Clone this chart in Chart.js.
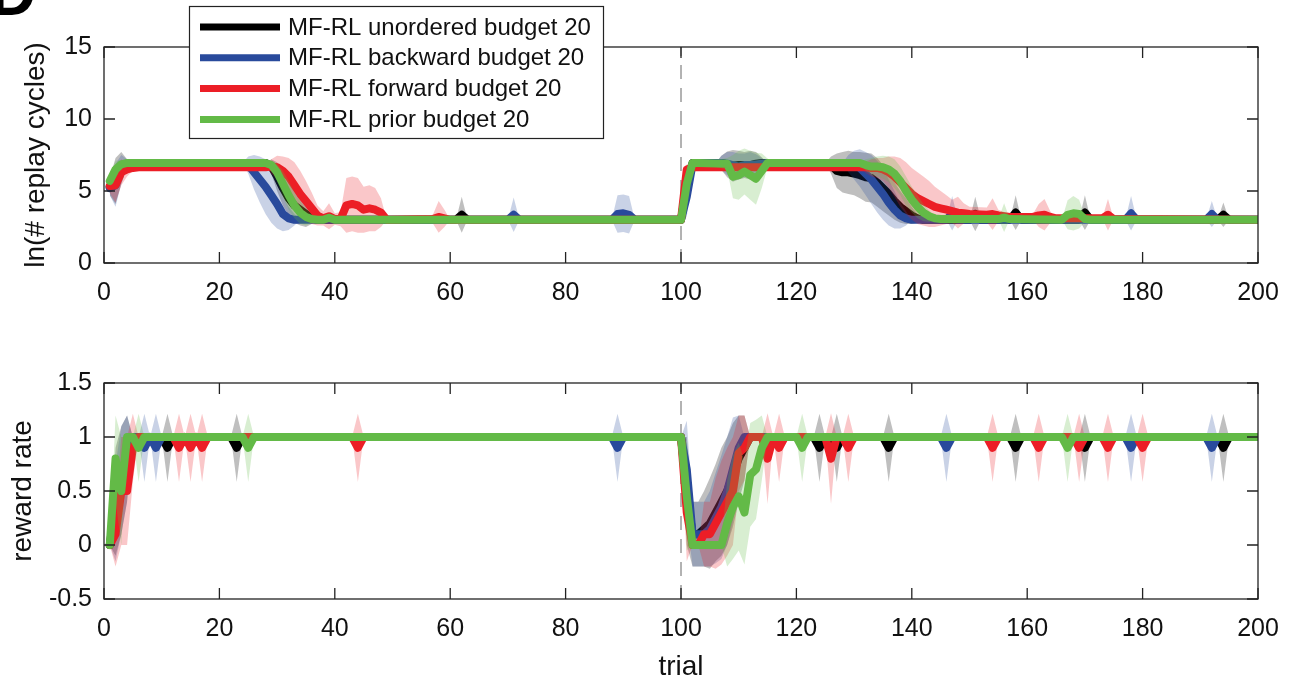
<!DOCTYPE html>
<html>
<head>
<meta charset="utf-8">
<script src="https://cdn.jsdelivr.net/npm/chart.js@4.4.1/dist/chart.umd.min.js"></script>
<style>
  html, body { margin: 0; padding: 0; background: #fff; }
  #wrap { position: relative; width: 1295px; height: 684px; }
  #topChart { position: absolute; left: 0; top: 0; width: 1295px; height: 340px; }
  #bottomChart { position: absolute; left: 0; top: 340px; width: 1295px; height: 344px; }
</style>
</head>
<body>
<div id="wrap">
  <canvas id="topChart" width="1295" height="340"></canvas>
  <canvas id="bottomChart" width="1295" height="344"></canvas>
</div>
<script>
const FONT = '"Liberation Sans", Arial, Helvetica, sans-serif';

const seriesLabels = ['MF-RL unordered budget 20', 'MF-RL backward budget 20', 'MF-RL forward budget 20', 'MF-RL prior budget 20'];
const seriesColors = ['rgb(0,0,0)', 'rgb(41,74,156)', 'rgb(236,30,38)', 'rgb(99,186,71)'];
const bandColors = ['rgba(0,0,0,0.25)', 'rgba(41,74,156,0.25)', 'rgba(236,30,38,0.25)', 'rgba(99,186,71,0.25)'];

const trialTicks = [0, 20, 40, 60, 80, 100, 120, 140, 160, 180, 200];
const replayTicks = [0, 5, 10, 15];
const rewardTicks = [-0.5, 0, 0.5, 1, 1.5];
const switchTrial = 100;

// [trial, mean, spread] -- straight runs between listed trials are constant
const replayUnordered = [
  [1,5.3,0.6],[2,5.7,1.6],[3,6.6,1.1],[4,6.9,0.3],[5,6.95,0],
  [28,6.95,0],[29,6.7,0.5],[30,6.0,1.0],[31,5.2,1.2],[32,4.5,1.2],[33,4.0,1.2],[34,3.7,1.1],[35,3.4,0.9],[36,3.1,0.4],[37,3.0,0],
  [61,3.0,0],[62,3.35,1.25],[63,3.0,0],
  [100,3.0,0],[101,5.3,1.3],[102,6.95,0.2],[103,6.95,0],
  [106,6.95,0],[107,6.95,0.5],[108,6.85,0.9],[109,6.75,1.1],[110,6.8,1.0],[111,6.8,0.9],[112,6.8,1.0],[113,6.9,0.8],[114,6.95,0.4],[115,6.95,0],
  [125,6.95,0],[126,6.8,0.6],[127,6.4,1.2],[128,6.3,1.4],[129,6.3,1.5],[130,6.2,1.5],[131,6.1,1.6],[132,5.95,1.7],[133,5.9,1.7],[134,5.6,1.7],[135,5.2,1.6],[136,4.8,1.5],[137,4.3,1.3],[138,3.9,1.1],[139,3.6,0.9],[140,3.3,0.6],[141,3.1,0.3],[142,3.0,0],
  [150,3.0,0],[151,3.4,1.2],[152,3.0,0],[157,3.0,0],[158,3.5,1.2],[159,3.0,0],[169,3.0,0],[170,3.5,1.2],[171,3.0,0],[193,3.0,0],[194,3.35,0.85],[195,3.0,0],[200,3.0,0]
];
const replayBackward = [
  [1,5.2,0.5],[2,5.4,1.5],[3,6.5,1.0],[4,6.9,0.3],[5,6.95,0],
  [24,6.95,0],[25,6.8,0.6],[26,6.3,1.2],[27,5.8,1.6],[28,5.3,1.9],[29,4.7,1.9],[30,4.1,1.7],[31,3.4,1.2],[32,3.1,0.8],[33,3.0,0.4],[34,3.0,0],
  [70,3.0,0],[71,3.35,1.2],[72,3.0,0],
  [88,3.0,0],[89,3.4,1.3],[90,3.45,1.3],[91,3.35,1.3],[92,3.0,0],
  [100,3.0,0],[101,4.6,1.4],[102,6.85,0.3],[103,6.95,0],
  [106,6.95,0],[107,6.95,0.5],[108,6.9,0.8],[109,6.8,0.9],[110,6.7,0.9],[111,6.8,0.8],[112,6.8,0.9],[113,6.85,0.7],[114,6.9,0.4],[115,6.95,0],
  [128,6.95,0],[129,6.9,0.6],[130,6.8,1.0],[131,6.6,1.3],[132,6.2,1.5],[133,5.8,1.7],[134,5.3,1.8],[135,4.8,1.8],[136,4.2,1.6],[137,3.7,1.3],[138,3.3,0.9],[139,3.1,0.5],[140,3.0,0],
  [146,3.0,0],[147,3.45,1.2],[148,3.0,0],[177,3.0,0],[178,3.45,1.2],[179,3.0,0],[191,3.0,0],[192,3.4,0.9],[193,3.0,0],[200,3.0,0]
];
const replayForward = [
  [1,5.35,0.5],[2,5.4,1.2],[3,6.3,0.9],[4,6.5,0.5],[5,6.6,0.2],[6,6.65,0],
  [28,6.65,0],[29,6.7,0.5],[30,6.65,0.8],[31,6.4,1.0],[32,6.0,1.3],[33,5.4,1.6],[34,4.8,1.6],[35,4.3,1.4],[36,3.8,1.1],[37,3.3,0.7],[38,3.1,0.5],[39,3.25,0.9],[40,3.05,0.4],[41,3.05,0.5],
  [42,4.0,1.9],[43,4.1,1.9],[44,4.0,1.9],[45,3.7,1.6],[46,3.8,1.6],[47,3.7,1.5],[48,3.5,1.0],[49,3.0,0],
  [57,3.05,0.3],[58,3.2,1.1],[59,3.1,0.6],[60,3.0,0],
  [100,3.0,0],[101,6.5,0.4],[102,6.65,0],
  [131,6.65,0],[132,6.65,0.4],[133,6.6,0.6],[134,6.6,0.7],[135,6.5,0.8],[136,6.3,1.1],[137,6.0,1.4],[138,5.6,1.7],[139,5.2,1.8],[140,4.8,1.8],[141,4.5,1.8],[142,4.3,1.7],[143,4.1,1.6],[144,3.9,1.4],[145,3.8,1.2],[146,3.7,1.0],[147,3.6,0.8],[148,3.5,1.1],[149,3.45,0.7],[150,3.4,0.5],
  [153,3.35,0.5],[154,3.4,1.1],[155,3.3,0.4],[156,3.25,0.3],[157,3.2,0.2],[161,3.2,0.2],[162,3.3,0.8],[163,3.35,1.1],[164,3.2,0.4],[165,3.1,0],
  [173,3.1,0],[174,3.35,1.1],[175,3.05,0],[200,3.0,0]
];
const replayPrior = [
  [1,5.7,0.4],[2,6.5,0.6],[3,6.85,0.3],[4,6.95,0],
  [28,6.95,0],[29,6.8,0.3],[30,6.3,0.6],[31,5.5,0.9],[32,4.7,1.0],[33,4.0,0.9],[34,3.5,0.8],[35,3.2,0.6],[36,3.05,0.3],[37,3.0,0],
  [38,3.0,0],[39,3.15,0.3],[40,3.0,0],
  [100,3.0,0],[101,5.5,0.6],[102,6.95,0.2],[103,6.95,0],
  [108,6.9,0.4],[109,6.0,1.5],[110,6.1,1.7],[111,6.35,1.6],[112,6.1,1.7],[113,5.85,1.8],[114,6.4,1.2],[115,6.95,0.3],[116,6.95,0],
  [131,6.95,0],[132,6.8,0.4],[133,6.7,0.6],[134,6.7,0.7],[135,6.65,0.8],[136,6.5,0.9],[137,6.2,1.0],[138,5.7,1.0],[139,5.0,1.0],[140,4.4,0.9],[141,3.9,0.8],[142,3.5,0.6],[143,3.25,0.4],[144,3.1,0.2],[145,3.05,0],
  [155,3.05,0],[156,3.15,1.0],[157,3.05,0],
  [166,3.0,0],[167,3.35,1.0],[168,3.45,1.2],[169,3.4,1.0],[170,3.05,0.2],[171,3.0,0],[200,3.0,0]
];

const rewardUnordered = [
  [1,0,0],[2,0.4,0.5],[3,0.6,0.5],[4,0.8,0.4],[5,1,0],
  [10,1,0],[11,0.9,0.316],[12,1,0],[22,1,0],[23,0.9,0.316],[24,1,0],
  [100,1,0],[101,0.5,0.5],[102,0.1,0.3],[103,0.1,0.3],[104,0.15,0.35],[105,0.2,0.42],[106,0.3,0.45],[107,0.4,0.5],[108,0.5,0.5],[109,0.65,0.48],[110,0.8,0.4],[111,0.9,0.3],[112,1,0],
  [123,1,0],[124,0.9,0.316],[125,1,0],[126,1,0],[127,0.9,0.316],[128,1,0],[135,1,0],[136,0.9,0.316],[137,1,0],
  [157,1,0],[158,0.9,0.316],[159,1,0],[169,1,0],[170,0.9,0.316],[171,1,0],[193,1,0],[194,0.9,0.316],[195,1,0],[200,1,0]
];
const rewardBackward = [
  [1,0,0],[2,0.3,0.45],[3,0.6,0.5],[4,0.8,0.4],[5,1,0],
  [6,1,0],[7,0.9,0.316],[8,1,0],[9,0.9,0.316],[10,1,0],
  [88,1,0],[89,0.9,0.316],[90,1,0],
  [100,1,0],[101,0.7,0.45],[102,0.1,0.3],[103,0.1,0.3],[104,0.1,0.3],[105,0.15,0.35],[106,0.25,0.42],[107,0.35,0.48],[108,0.5,0.5],[109,0.7,0.48],[110,0.9,0.3],[111,1,0],
  [145,1,0],[146,0.9,0.316],[147,1,0],[177,1,0],[178,0.9,0.316],[179,1,0],[191,1,0],[192,0.9,0.316],[193,1,0],[200,1,0]
];
const rewardForward = [
  [1,0,0],[2,0.1,0.3],[3,0.5,0.5],[4,0.5,0.5],[5,0.9,0.316],[6,1,0],
  [12,1,0],[13,0.9,0.316],[14,1,0],[15,0.9,0.316],[16,1,0],[17,0.9,0.316],[18,1,0],
  [43,1,0],[44,0.9,0.316],[45,1,0],
  [100,1,0],[101,0.3,0.45],[102,0,0],[103,0,0],[104,0.1,0.3],[105,0.1,0.3],[106,0.2,0.42],[107,0.3,0.48],[108,0.4,0.5],[109,0.5,0.5],[110,0.85,0.35],[111,0.9,0.3],[112,1,0],
  [114,1,0],[115,0.8,0.42],[116,1,0],[117,0.9,0.316],[118,1,0],
  [125,1,0],[126,0.8,0.42],[127,1,0],[128,1,0],[129,0.9,0.316],[130,1,0],
  [153,1,0],[154,0.9,0.316],[155,1,0],[161,1,0],[162,0.9,0.316],[163,1,0],[168,1,0],[169,0.9,0.316],[170,1,0],
  [173,1,0],[174,0.9,0.316],[175,1,0],[179,1,0],[180,0.9,0.316],[181,1,0],[200,1,0]
];
const rewardPrior = [
  [1,0,0],[2,0.8,0.4],[3,0.5,0.5],[4,1,0],
  [5,1,0],[6,0.9,0.316],[7,1,0],[24,1,0],[25,0.9,0.316],[26,1,0],
  [100,1,0],[101,0.45,0.5],[102,0,0],[107,0,0],[108,0.2,0.4],[109,0.35,0.48],[110,0.45,0.5],[111,0.3,0.48],[112,0.65,0.48],[113,0.7,0.46],[114,0.9,0.3],[115,1,0],
  [120,1,0],[121,0.9,0.316],[122,1,0],[166,1,0],[167,0.9,0.316],[168,1,0],[200,1,0]
];

// band (upper filled to lower) then the mean line, per series
function seriesSets(points, k) {
  return [
    { data: points.map(p => ({ x: p[0], y: p[1] + p[2] })), fill: '+1', backgroundColor: bandColors[k],
      borderColor: 'rgba(0,0,0,0)', borderWidth: 0, pointRadius: 0 },
    { data: points.map(p => ({ x: p[0], y: p[1] - p[2] })), fill: false,
      borderColor: 'rgba(0,0,0,0)', borderWidth: 0, pointRadius: 0 },
    { label: seriesLabels[k], data: points.map(p => ({ x: p[0], y: p[1] })), fill: false,
      borderColor: seriesColors[k], borderWidth: 8, borderJoinStyle: 'round', borderCapStyle: 'round', pointRadius: 0 }
  ];
}

function buildDatasets(allSeries, yMin, yMax) {
  let sets = [{ data: [{ x: switchTrial, y: yMin }, { x: switchTrial, y: yMax }], borderColor: '#666',
                borderWidth: 1, borderDash: [14, 9], pointRadius: 0, fill: false }];
  allSeries.forEach((s, k) => { sets = sets.concat(seriesSets(s, k)); });
  // first in list is drawn first (bottom), last drawn on top
  sets.forEach((d, i) => { d.order = sets.length - i; });
  return sets;
}

// MATLAB-like box with inward ticks on all sides
const framePlugin = {
  id: 'frame',
  afterDatasetsDraw(chart) {
    const { ctx, chartArea: a, scales } = chart;
    ctx.save();
    ctx.strokeStyle = '#222';
    ctx.lineWidth = 1.3;
    ctx.strokeRect(a.left, a.top, a.right - a.left, a.bottom - a.top);
    ctx.beginPath();
    scales.x.ticks.forEach(t => {
      const px = scales.x.getPixelForValue(t.value);
      ctx.moveTo(px, a.bottom); ctx.lineTo(px, a.bottom - 11);
      ctx.moveTo(px, a.top); ctx.lineTo(px, a.top + 11);
    });
    scales.y.ticks.forEach(t => {
      const py = scales.y.getPixelForValue(t.value);
      ctx.moveTo(a.left, py); ctx.lineTo(a.left + 11, py);
      ctx.moveTo(a.right, py); ctx.lineTo(a.right - 11, py);
    });
    ctx.stroke();
    ctx.restore();
  }
};

const legendPlugin = {
  id: 'legendBox',
  afterDraw(chart) {
    const ctx = chart.ctx;
    ctx.save();
    // cut-off panel letter
    ctx.fillStyle = '#000';
    ctx.font = 'bold 64px ' + FONT;
    ctx.textBaseline = 'alphabetic';
    ctx.fillText('D', -10, 15);

    ctx.fillStyle = '#fff';
    ctx.fillRect(189.5, 6.5, 414, 132);
    ctx.strokeStyle = '#222';
    ctx.lineWidth = 1.2;
    ctx.strokeRect(189.5, 6.5, 414, 132);
    ctx.font = '24px ' + FONT;
    ctx.textBaseline = 'middle';
    seriesLabels.forEach((lab, k) => {
      const y = 27 + k * 30.8;
      ctx.strokeStyle = seriesColors[k];
      ctx.lineWidth = 7;
      ctx.beginPath();
      ctx.moveTo(200, y);
      ctx.lineTo(280, y);
      ctx.stroke();
      ctx.fillStyle = '#111';
      ctx.fillText(lab, 288, y + 1);
    });
    ctx.restore();
  }
};

function panelOptions(cfg) {
  return {
    responsive: false,
    animation: false,
    events: [],
    layout: { padding: { left: 0, right: 37, top: cfg.padTop, bottom: 0 } },
    plugins: { legend: { display: false }, tooltip: { enabled: false } },
    scales: {
      x: {
        type: 'linear', min: 0, max: 200,
        afterBuildTicks: s => { s.ticks = trialTicks.map(v => ({ value: v })); },
        afterFit: s => { s.height = cfg.xHeight; },
        grid: { display: false, drawTicks: false },
        border: { display: false },
        ticks: { font: { family: FONT, size: 25 }, color: '#111', padding: 15, maxRotation: 0, autoSkip: false,
                 callback: v => String(v) },
        title: cfg.xTitle ? { display: true, text: cfg.xTitle, font: { family: FONT, size: 28 }, color: '#111', padding: { top: 0, bottom: 0 } } : { display: false }
      },
      y: {
        type: 'linear', min: cfg.yMin, max: cfg.yMax,
        afterBuildTicks: s => { s.ticks = cfg.yTicks.map(v => ({ value: v })); },
        afterFit: s => { s.width = 104; },
        grid: { display: false, drawTicks: false },
        border: { display: false },
        ticks: { font: { family: FONT, size: 25 }, color: '#111', padding: 12, autoSkip: false,
                 callback: v => String(v) },
        title: { display: true, text: cfg.yTitle, font: { family: FONT, size: 28 }, color: '#111', padding: { top: cfg.yTitlePad, bottom: 0 } }
      }
    }
  };
}

new Chart(document.getElementById('topChart').getContext('2d'), {
  type: 'line',
  data: { datasets: buildDatasets([replayUnordered, replayBackward, replayForward, replayPrior], 0, 15) },
  options: panelOptions({ padTop: 47, xHeight: 77, yMin: 0, yMax: 15, yTicks: replayTicks,
                          yTitle: 'ln(# replay cycles)', yTitlePad: 19 }),
  plugins: [framePlugin, legendPlugin]
});

new Chart(document.getElementById('bottomChart').getContext('2d'), {
  type: 'line',
  data: { datasets: buildDatasets([rewardUnordered, rewardBackward, rewardForward, rewardPrior], -0.5, 1.5) },
  options: panelOptions({ padTop: 43, xHeight: 85, yMin: -0.5, yMax: 1.5, yTicks: rewardTicks,
                          yTitle: 'reward rate', yTitlePad: 6.5, xTitle: 'trial' }),
  plugins: [framePlugin]
});
</script>
</body>
</html>
